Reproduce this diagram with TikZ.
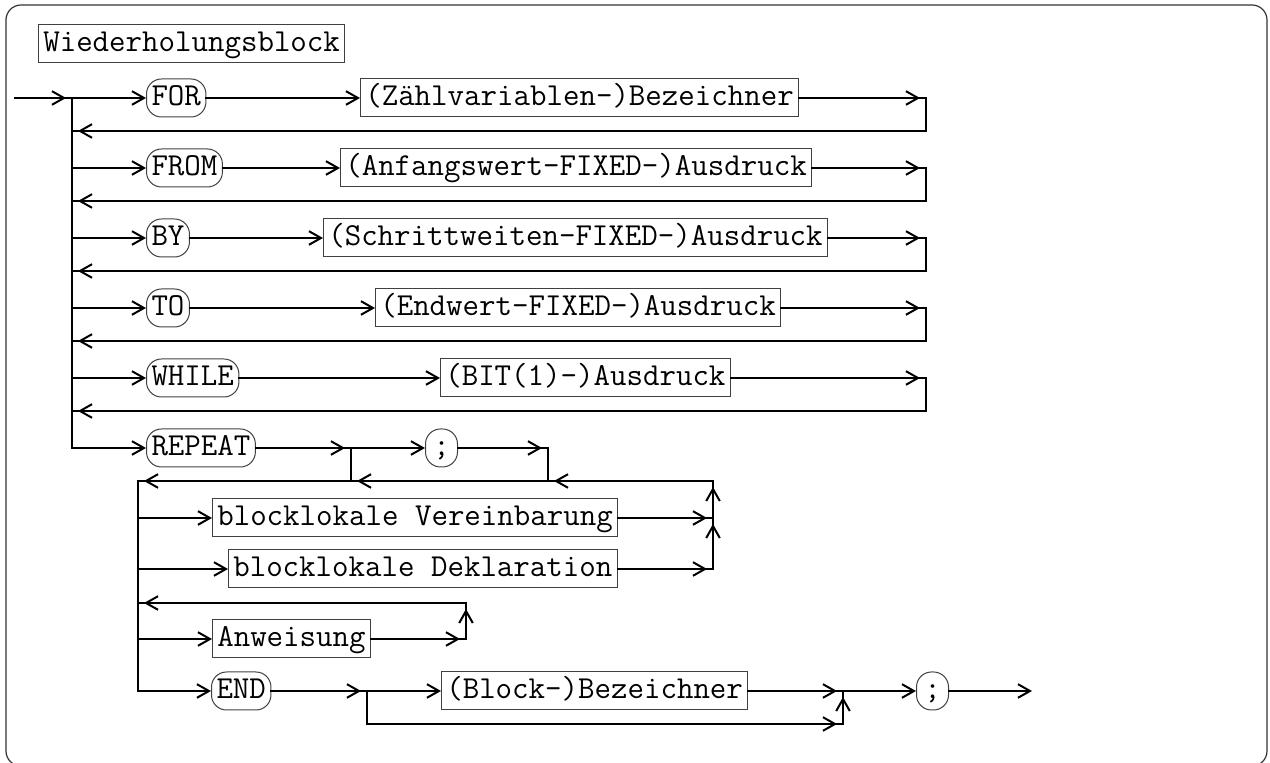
\documentclass[tikz,border=0pt]{standalone}
\usepackage{fontspec}
\usetikzlibrary{arrows.meta,decorations.markings}
\tikzset{
  conn/.style={line width=1pt, line cap=rect},
  tipend/.style={-{Straight Barb[length=6pt,width=6.8pt]}},
  tipnear/.style={postaction={decorate}, decoration={markings, mark=at position -3pt with {\arrow{Straight Barb[length=6pt,width=6.8pt]}}}},
  lbl/.style={font=\fontsize{16}{19}\selectfont\ttfamily, text height=12pt, text depth=4pt, inner ysep=1.5pt, anchor=west, draw=black!75, line width=0.5pt},
  boxnode/.style={lbl, inner xsep=2.4pt},
  termnode/.style={lbl, inner xsep=2.5pt, rounded corners=7.5pt},
  frame/.style={draw=black!80, line width=0.6pt, rounded corners=7.5pt},
}
\begin{document}
\begin{tikzpicture}[x=0.5pt,y=-0.5pt]
\useasboundingbox (0,0) rectangle (1270,763);
\draw[frame] (6,5) rectangle (1267,766);

% title
\node[boxnode] (title) at (38,44) {Wiederholungsblock};

% rows
\node[termnode] (n1) at (146,98) {FOR};
\node[boxnode]  (b1) at (360,98) {(Zählvariablen-)Bezeichner};
\node[termnode] (n2) at (146,168) {FROM};
\node[boxnode]  (b2) at (340,168) {(Anfangswert-FIXED-)Ausdruck};
\node[termnode] (n3) at (146,238) {BY};
\node[boxnode]  (b3) at (323,238) {(Schrittweiten-FIXED-)Ausdruck};
\node[termnode] (n4) at (146,308) {TO};
\node[boxnode]  (b4) at (375,308) {(Endwert-FIXED-)Ausdruck};
\node[termnode] (n5) at (146,378) {WHILE};
\node[boxnode]  (b5) at (440,378) {(BIT(1)-)Ausdruck};
\node[termnode] (n6) at (146,448) {REPEAT};
\node[termnode, minimum width=16pt] (s1) at (425,448) {;};
\node[boxnode]  (b7) at (212,518) {blocklokale Vereinbarung};
\node[boxnode]  (b8) at (228,569) {blocklokale Deklaration};
\node[boxnode]  (b9) at (212,639) {Anweisung};
\node[termnode] (n10) at (211,691) {END};
\node[boxnode]  (b10) at (441,691) {(Block-)Bezeichner};
\node[termnode, minimum width=16pt] (s2) at (916,691) {;};

% coordinates
\coordinate (start) at (15,98);
\coordinate (T0) at (72,98);
\coordinate (T1) at (72,168);
\coordinate (T2) at (72,238);
\coordinate (T3) at (72,308);
\coordinate (T4) at (72,378);
\coordinate (T5) at (72,448);
\coordinate (K0) at (72,131);
\coordinate (K1) at (72,201);
\coordinate (K2) at (72,271);
\coordinate (K3) at (72,341);
\coordinate (K4) at (72,411);
\foreach \i/\y/\b in {0/98/131,1/168/201,2/238/271,3/308/341,4/378/411}{
  \coordinate (R\i) at (926,\y);
  \coordinate (RB\i) at (926,\b);
}
\coordinate (jA) at (351,448);
\coordinate (jAd) at (351,481);
\coordinate (jB) at (548,448);
\coordinate (jBd) at (548,481);
\coordinate (L0) at (713,481);
\coordinate (V1) at (713,518);
\coordinate (V2) at (713,569);
\coordinate (S0) at (138,481);
\coordinate (S1) at (138,518);
\coordinate (S2) at (138,569);
\coordinate (S3) at (138,603);
\coordinate (S4) at (138,639);
\coordinate (S5) at (138,691);
\coordinate (W0) at (466,603);
\coordinate (W1) at (466,639);
\coordinate (jC) at (367,691);
\coordinate (jCd) at (367,724);
\coordinate (jD) at (843,691);
\coordinate (jDd) at (843,724);
\coordinate (fin) at (1032,691);

% main trunk
\draw[conn,tipnear] (start) -- (T0);
\draw[conn] (T0) -- (T5);

% option rows
\draw[conn,tipend] (T0) -- (n1.west);
\draw[conn,tipend] (n1.east) -- (b1.west);
\draw[conn,tipnear] (b1.east) -- (R0);
\draw[conn,tipnear] (R0) -- (RB0) -- (K0);

\draw[conn,tipend] (T1) -- (n2.west);
\draw[conn,tipend] (n2.east) -- (b2.west);
\draw[conn,tipnear] (b2.east) -- (R1);
\draw[conn,tipnear] (R1) -- (RB1) -- (K1);

\draw[conn,tipend] (T2) -- (n3.west);
\draw[conn,tipend] (n3.east) -- (b3.west);
\draw[conn,tipnear] (b3.east) -- (R2);
\draw[conn,tipnear] (R2) -- (RB2) -- (K2);

\draw[conn,tipend] (T3) -- (n4.west);
\draw[conn,tipend] (n4.east) -- (b4.west);
\draw[conn,tipnear] (b4.east) -- (R3);
\draw[conn,tipnear] (R3) -- (RB3) -- (K3);

\draw[conn,tipend] (T4) -- (n5.west);
\draw[conn,tipend] (n5.east) -- (b5.west);
\draw[conn,tipnear] (b5.east) -- (R4);
\draw[conn,tipnear] (R4) -- (RB4) -- (K4);

% REPEAT
\draw[conn,tipend] (T5) -- (n6.west);
\draw[conn,tipnear] (n6.east) -- (jA);
\draw[conn,tipend] (jA) -- (s1.west);
\draw[conn,tipnear] (s1.east) -- (jB);
\draw[conn] (jA) -- (jAd);
\draw[conn] (jB) -- (jBd);
\draw[conn,tipnear] (L0) -- (jBd);
\draw[conn,tipnear] (jBd) -- (jAd);
\draw[conn,tipnear] (jAd) -- (S0);

% sub trunk
\draw[conn] (S0) -- (S5);
\draw[conn,tipend] (S1) -- (b7.west);
\draw[conn,tipnear] (b7.east) -- (V1);
\draw[conn,tipend] (S2) -- (b8.west);
\draw[conn,tipnear] (b8.east) -- (V2);
\draw[conn,tipnear] (V2) -- (V1);
\draw[conn,tipnear] (V1) -- (L0);

\draw[conn,tipend] (S4) -- (b9.west);
\draw[conn,tipnear] (b9.east) -- (W1);
\draw[conn,tipnear] (W1) -- (W0);
\draw[conn,tipnear] (W0) -- (S3);

% END
\draw[conn,tipend] (S5) -- (n10.west);
\draw[conn,tipnear] (n10.east) -- (jC);
\draw[conn,tipend] (jC) -- (b10.west);
\draw[conn] (jC) -- (jCd);
\draw[conn,tipnear] (jCd) -- (jDd);
\draw[conn,tipnear] (b10.east) -- (jD);
\draw[conn,tipnear] (jDd) -- (jD);
\draw[conn,tipend] (jD) -- (s2.west);
\draw[conn,tipend] (s2.east) -- (fin);
\end{tikzpicture}
\end{document}
